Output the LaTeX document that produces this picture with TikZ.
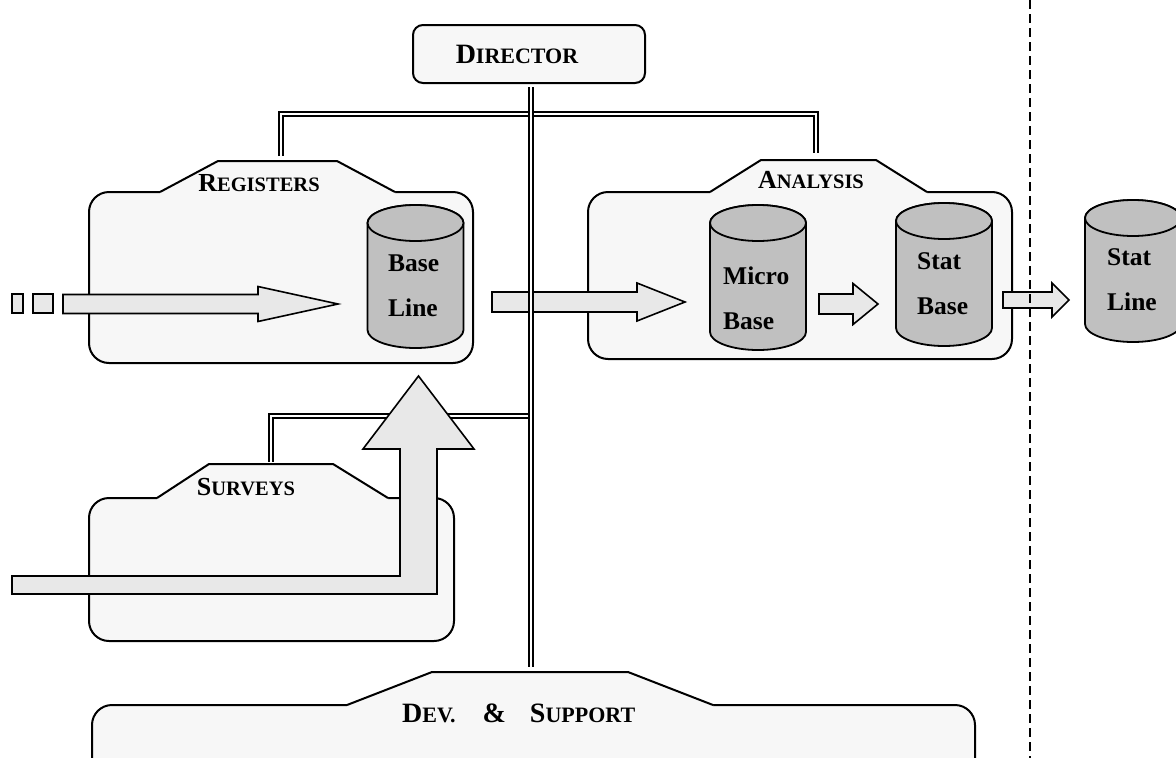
\documentclass[tikz,border=0pt]{standalone}
\usepackage{fontspec}
\setmainfont{Liberation Serif}
\definecolor{boxgray}{HTML}{F7F7F7}
\definecolor{arrowgray}{HTML}{E8E8E8}
\definecolor{cylgray}{HTML}{C0C0C0}
\newcommand\tabname[2]{{\fontsize{26}{30}\selectfont #1}{\fontsize{20.5}{30}\selectfont #2}}
\begin{document}
\begin{tikzpicture}[x=1pt, y=1pt, yscale=-1,
    box/.style={draw, line width=2pt, fill=boxgray, rounded corners=20pt},
    tabline/.style={line width=2pt},
    bus/.style={double, double distance=2.2pt, line width=2pt},
    blockarrow/.style={draw, line width=1.6pt, fill=arrowgray},
    cyl/.style={draw, line width=1.8pt, fill=cylgray},
    tabtitle/.style={font=\bfseries, inner sep=0pt}]
\useasboundingbox (0,0) rectangle (1176,758);
\clip (0,0) rectangle (1176,758);

\foreach \bl/\bt/\br/\bb/\ta/\tb/\tc/\td/\tp in {89/192/473/363/160/218/337/395/161,
    588/192/1012/359/710/761/876/927/160, 89/498/454/641/157/209/333/388/464,
    92/705/975/800/347/432/628/713/672}
{
    \draw[box] (\bl,\bt) rectangle (\br,\bb);
    \fill[boxgray] (\ta,\bt+2.5) -- (\ta,\bt) -- (\tb,\tp) -- (\tc,\tp) -- (\td,\bt)
        -- (\td,\bt+2.5) -- cycle;
    \draw[tabline] (\ta,\bt) -- (\tb,\tp) -- (\tc,\tp) -- (\td,\bt);
}
\node[tabtitle] (regname) at (259,183) {\tabname{R}{EGISTERS}};
\node[tabtitle] (ananame) at (811,180) {\tabname{A}{NALYSIS}};
\node[tabtitle] (survname) at (246,487) {\tabname{S}{URVEYS}};
\node[tabtitle, anchor=west] (devname) at (402,713) {{\fontsize{28}{30}\selectfont D}{\fontsize{22}{30}\selectfont EV.}\hspace{27pt}{\fontsize{28}{30}\selectfont\&}\hspace{24pt}{\fontsize{28}{30}\selectfont S}{\fontsize{22}{30}\selectfont UPPORT}};

\node[draw, line width=2pt, fill=boxgray, rounded corners=10pt, minimum width=232pt,
    minimum height=58pt, inner sep=0pt, font=\bfseries] (director) at (529,54)
    {{\fontsize{28}{32}\selectfont D}{\fontsize{22}{32}\selectfont IRECTOR}\hspace*{24pt}};

\foreach \cx/\ytop/\ybot/\tx/\ty/\txt [count=\i] in {415.5/205/348/388/285.5/{Base\\Line},
    758/205/350/723/298.5/{Micro\\Base}, 944/203/346/917/283.5/{Stat\\Base},
    1133/200/342/1107/280/{Stat\\Line}}
{
    \draw[cyl] (\cx-48,\ytop+18) -- (\cx-48,\ybot-18) arc (180:0:48pt and 18pt)
        -- (\cx+48,\ytop+18) arc (0:-180:48pt and 18pt) -- cycle;
    \draw[cyl] (\cx,\ytop+18) ellipse (48pt and 18pt);
    \node[anchor=west, align=left, inner sep=0pt, font=\bfseries\fontsize{25.5}{45}\selectfont]
        (base\i) at (\tx,\ty) {\txt};
}

\foreach \xa/\xb/\xc/\yc/\h/\H in {63/258/338/304/9.5/17.5, 492/637/685/302/10/19,
    819/853/878/304/10/20.5, 1003/1052/1069/300/8/17}
{
    \draw[blockarrow] (\xa,\yc-\h) -- (\xb,\yc-\h) -- (\xb,\yc-\H) -- (\xc,\yc)
        -- (\xb,\yc+\H) -- (\xb,\yc+\h) -- (\xa,\yc+\h) -- cycle;
}
\foreach \xa/\xb in {12/23, 33/53}
    \draw[blockarrow] (\xa,294) rectangle (\xb,313);

\coordinate (dirfoot) at (531,87);
\coordinate (devtop) at (531,667);
\coordinate (hub) at (531,114);
\coordinate (survhub) at (531,416);
\coordinate (regtop) at (281,156);
\coordinate (anatop) at (816,153);
\coordinate (survtop) at (271,462);
\draw[bus] (regtop) |- (hub) -| (anatop);
\draw[bus] (survtop) |- (survhub);
\draw[bus] (dirfoot) -- (devtop);

\draw[blockarrow] (12,576) -- (400,576) -- (400,449) -- (363,449) -- (418.5,376)
    -- (474,449) -- (437,449) -- (437,594) -- (12,594) -- cycle;

\draw[line width=1.5pt, dash pattern=on 9pt off 5pt] (1030,0) -- (1030,758);
\end{tikzpicture}
\end{document}
